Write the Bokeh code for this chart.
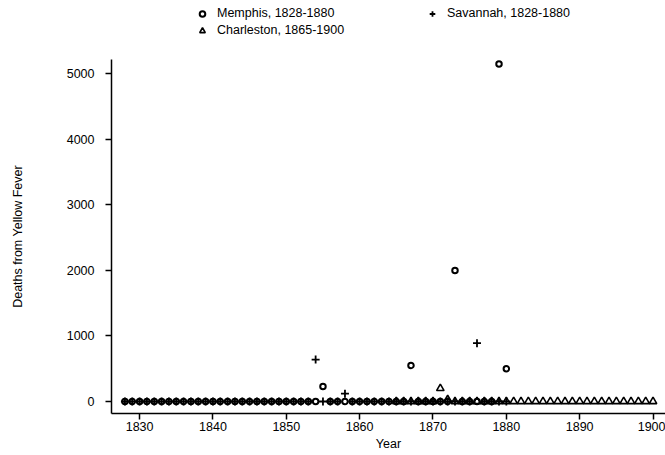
from bokeh.plotting import figure
from bokeh.layouts import column
from bokeh.models import Range1d, Legend, LegendItem, FixedTicker
from bokeh.embed import file_html
from bokeh.resources import INLINE

# ---- data ----
memphis_years = list(range(1828, 1881))
memphis_deaths = [0, 0, 0, 0, 0, 0, 0, 0, 0, 0,      # 1828-1837
                  0, 0, 0, 0, 0, 0, 0, 0, 0, 0,      # 1838-1847
                  0, 0, 0, 0, 0, 0, 0, 230, 0, 0,    # 1848-1857
                  0, 0, 0, 0, 0, 0, 0, 0, 0, 550,    # 1858-1867
                  0, 0, 0, 0, 0, 2000, 0, 0, 0, 0,   # 1868-1877
                  0, 5150, 500]                      # 1878-1880

savannah_years = list(range(1828, 1881))
savannah_deaths = [0, 0, 0, 0, 0, 0, 0, 0, 0, 0,     # 1828-1837
                   0, 0, 0, 0, 0, 0, 0, 0, 0, 0,     # 1838-1847
                   0, 0, 0, 0, 0, 0, 640, 0, 0, 0,   # 1848-1857
                   120, 0, 0, 0, 0, 0, 0, 0, 0, 0,   # 1858-1867
                   0, 0, 0, 0, 0, 0, 0, 0, 890, 0,   # 1868-1877
                   0, 0, 0]                          # 1878-1880

charleston_years = list(range(1865, 1901))
charleston_deaths = [0, 0, 0, 0, 0, 0, 200, 30, 0, 0,   # 1865-1874
                     0, 0, 0, 0, 0, 0, 0, 0, 0, 0,      # 1875-1884
                     0, 0, 0, 0, 0, 0, 0, 0, 0, 0,      # 1885-1894
                     0, 0, 0, 0, 0, 0]                  # 1895-1900

series_labels = ["Memphis, 1828-1880", "Savannah, 1828-1880", "Charleston, 1865-1900"]
x_ticks = [1830, 1840, 1850, 1860, 1870, 1880, 1890, 1900]
y_ticks = [0, 1000, 2000, 3000, 4000, 5000]

FONT = "Liberation Sans"
M_STYLE = dict(marker="circle", size=5.5, fill_color=None, line_color="black", line_width=2)
S_STYLE = dict(marker="cross", size=8, line_color="black", line_width=1.8)
C_STYLE = dict(marker="triangle", size=7.5, fill_color=None, line_color="black", line_width=1.6)

X_RANGE = (1826.17, 1901.7)

# ---- main plot ----
p = figure(width=665, height=396, output_backend="svg", toolbar_location=None,
           x_range=Range1d(*X_RANGE), y_range=Range1d(-183, 5218),
           min_border_left=111, min_border_right=0, min_border_top=0,
           min_border_bottom=42)
p.outline_line_color = None
p.xgrid.visible = False
p.ygrid.visible = False
p.background_fill_color = "white"
p.border_fill_color = "white"

p.scatter(memphis_years, memphis_deaths, **M_STYLE)
p.scatter(savannah_years, savannah_deaths, **S_STYLE)
p.scatter(charleston_years, charleston_deaths, **C_STYLE)

for ax in (p.xaxis[0], p.yaxis[0]):
    ax.axis_line_width = 1.5
    ax.axis_line_color = "black"
    ax.major_tick_line_width = 1.5
    ax.major_tick_line_color = "black"
    ax.major_tick_out = 6
    ax.major_tick_in = 0
    ax.minor_tick_line_color = None
    ax.major_label_text_font = FONT
    ax.major_label_text_font_size = "12.5px"
    ax.major_label_text_color = "black"
    ax.axis_label_text_font = FONT
    ax.axis_label_text_font_size = "12.5px"
    ax.axis_label_text_font_style = "normal"
    ax.axis_label_text_color = "black"

p.xaxis.ticker = FixedTicker(ticks=x_ticks)
p.yaxis.ticker = FixedTicker(ticks=y_ticks)
p.xaxis.axis_label = "Year"
p.yaxis.axis_label = "Deaths from Yellow Fever"
p.xaxis.major_label_standoff = 2
p.xaxis.axis_label_standoff = 3
p.yaxis.major_label_standoff = 11
p.yaxis.axis_label_standoff = 39

# ---- legend strip above the plot (its y-range hides the points; only the legend shows) ----
lg = figure(width=665, height=59, output_backend="svg", toolbar_location=None,
            x_range=Range1d(*X_RANGE), y_range=Range1d(100000, 100001),
            min_border_left=111, min_border_right=0, min_border_top=0,
            min_border_bottom=0)
lg.axis.visible = False
lg.xgrid.visible = False
lg.ygrid.visible = False
lg.outline_line_color = None
lg.border_fill_color = "white"
lg.background_fill_color = "white"
lr_m = lg.scatter(memphis_years, memphis_deaths, **M_STYLE)
lr_s = lg.scatter(savannah_years, savannah_deaths, **S_STYLE)
lr_c = lg.scatter(charleston_years, charleston_deaths, **C_STYLE)

legend = Legend(items=[
    LegendItem(label=series_labels[0], renderers=[lr_m]),
    LegendItem(label=series_labels[1], renderers=[lr_s]),
    LegendItem(label=series_labels[2], renderers=[lr_c]),
], location=(84, 20.5), orientation="horizontal", ncols=2,
    glyph_width=14, glyph_height=17, label_height=17, label_width=208,
    label_standoff=8, spacing=0, padding=0, margin=0,
    border_line_color=None, background_fill_alpha=0,
    label_text_font=FONT, label_text_font_size="12.5px", label_text_color="black")
lg.add_layout(legend, "center")

layout = column(lg, p, spacing=0)
open("out.html", "w").write(file_html(layout, INLINE))
